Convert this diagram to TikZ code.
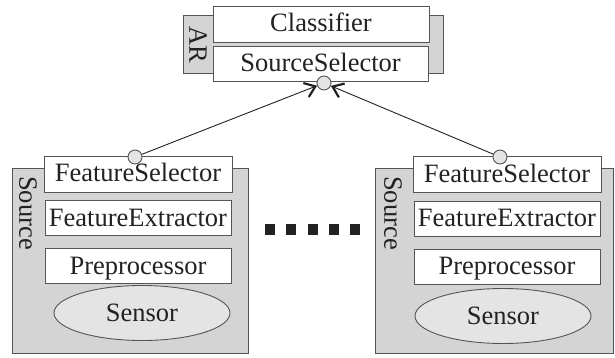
\documentclass[tikz,border=0pt]{standalone}
\usepackage{fontspec}
\setmainfont{Liberation Serif}
\usetikzlibrary{positioning,arrows.meta,shapes.geometric}
\definecolor{frameline}{HTML}{555555}
\definecolor{groupgray}{HTML}{D4D4D4}
\definecolor{sensorgray}{HTML}{E4E4E4}
\definecolor{textdark}{HTML}{222222}

\begin{document}
\begin{tikzpicture}[x=1pt,y=-1pt,
    comp/.style={rectangle,draw=frameline,fill=white,line width=0.9pt,
                 inner sep=0pt,minimum width=186pt,minimum height=35pt,
                 text height=20pt,text depth=4pt,text=textdark,
                 font=\rmfamily\fontsize{26.5}{29}\selectfont},
    group/.style={rectangle,draw=frameline,fill=groupgray,line width=0.9pt,
                  inner sep=0pt},
    grouplabel/.style={rotate=-90,inner sep=0pt,text=textdark,
                       font=\rmfamily\fontsize{26.5}{29}\selectfont},
    sensor/.style={ellipse,draw=frameline,fill=sensorgray,line width=0.9pt,
                   inner sep=0pt,minimum width=176pt,minimum height=55pt,
                   text=textdark,font=\rmfamily\fontsize{26.5}{29}\selectfont},
    port/.style={circle,draw=frameline,fill=sensorgray,line width=0.9pt,
                 minimum size=14pt,inner sep=0pt},
    link/.style={draw=textdark,line width=0.9pt,
                 -{Straight Barb[length=10pt,width=15pt,line width=2.2pt]}},
    dot/.style={rectangle,fill=textdark,minimum width=10pt,minimum height=11pt,
                inner sep=0pt}]
  \useasboundingbox (0,0) rectangle (615,358);

  % activity recognition part
  \node[group,minimum width=260pt,minimum height=58pt] (ar) at (313,44) {};
  \node[grouplabel] (arlab) at (198,45) {AR};
  \node[comp,minimum width=216pt,minimum height=36pt] (cls) at (321,24) {Classifier};
  \node[comp,minimum width=215pt] (ss) at (320.5,63.5) {SourceSelector};
  \node[port] (ssport) at (324,83) {};

  % left source
  \node[group,minimum width=236pt,minimum height=185pt] (srcL) at (130,260.5) {};
  \node[grouplabel] (srcLlab) at (28,213) {Source};
  \node[comp,minimum width=188pt,minimum height=36pt] (fsL) at (138,174) {FeatureSelector};
  \node[comp,below=8pt of fsL] (feL) {FeatureExtractor};
  \node[comp,below=12pt of feL] (ppL) {Preprocessor};
  \node[sensor] (snL) at (142,313) {Sensor};
  \node[port] (fsLport) at (135,157) {};

  % right source
  \node[group,minimum width=238pt,minimum height=185pt] (srcR) at (494,260.5) {};
  \node[grouplabel] (srcRlab) at (393,213) {Source};
  \node[comp,minimum width=188pt,minimum height=36pt] (fsR) at (507,174.5) {FeatureSelector};
  \node[comp,below=8pt of fsR] (feR) {FeatureExtractor};
  \node[comp,below=12pt of feR] (ppR) {Preprocessor};
  \node[sensor] (snR) at (503,316) {Sensor};
  \node[port] (fsRport) at (500,157) {};

  % more sources
  \foreach \i in {0,...,4}
    \node[dot] (more\i) at ({270+21.25*\i},229.5) {};

  \draw[link] (fsLport) -- (ssport);
  \draw[link] (fsRport) -- (ssport);
\end{tikzpicture}
\end{document}
